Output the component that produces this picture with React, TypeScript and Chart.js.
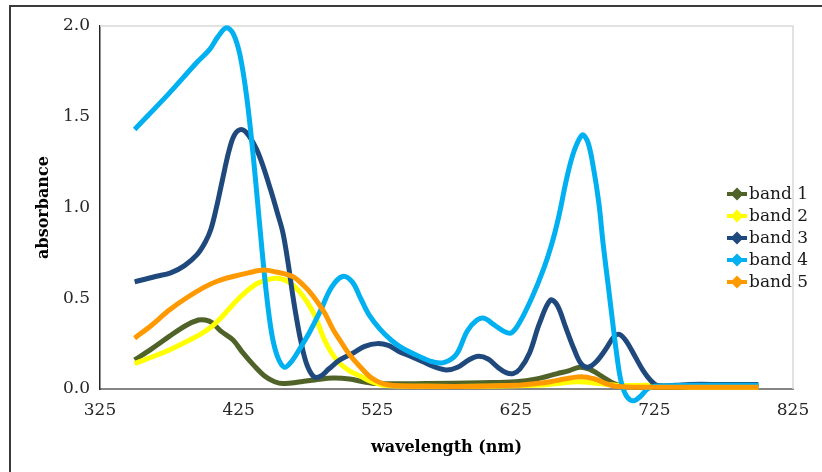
import React, { useEffect, useRef } from "react";
import { Chart, registerables } from "chart.js";

Chart.register(...registerables);

// ---- data ----
const seriesLabels = ["band 1", "band 2", "band 3", "band 4", "band 5"];
const seriesColors = ["#4F6228", "#FFFF00", "#1F497D", "#00B0F0", "#FF9900"];

const xTicks = [325, 425, 525, 625, 725, 825];
const yTicks = [0.0, 0.5, 1.0, 1.5, 2.0];

const band1Wl = [350, 362, 375, 387, 396, 401, 406, 412, 421, 428, 436, 444, 451, 457, 470, 480, 493, 505, 515, 525, 560, 600, 625, 640, 655, 663, 671, 678, 684, 690, 696, 705, 725, 750, 775, 800];
const band1Abs = [0.16, 0.22, 0.29, 0.35, 0.38, 0.38, 0.365, 0.32, 0.27, 0.2, 0.13, 0.07, 0.04, 0.03, 0.04, 0.05, 0.06, 0.055, 0.04, 0.03, 0.03, 0.035, 0.04, 0.055, 0.085, 0.1, 0.12, 0.11, 0.085, 0.055, 0.03, 0.015, 0.01, 0.01, 0.01, 0.01];

const band2Wl = [350, 362, 375, 387, 397, 405, 412, 418, 424, 431, 438, 445, 452, 460, 469, 479, 487, 492, 498, 505, 513, 521, 530, 560, 600, 640, 655, 670, 685, 700, 720, 740, 750, 775, 800];
const band2Abs = [0.14, 0.175, 0.215, 0.26, 0.3, 0.34, 0.39, 0.44, 0.49, 0.54, 0.58, 0.6, 0.61, 0.595, 0.536, 0.42, 0.27, 0.2, 0.14, 0.1, 0.07, 0.04, 0.02, 0.015, 0.015, 0.02, 0.03, 0.04, 0.03, 0.02, 0.02, 0.015, 0.01, 0.01, 0.01];

const band3Wl = [350, 365, 376, 386, 395, 401, 405, 409, 413, 418, 422, 427, 432, 438, 443, 448, 453, 457, 461, 464, 467, 470, 474, 479, 484, 490, 498, 508, 516, 525, 533, 540, 549, 558, 567, 575, 583, 591, 598, 605, 612, 618, 623, 628, 635, 642, 650, 655, 661, 667, 672, 677, 683, 690, 696, 700, 705, 711, 717, 722, 727, 740, 750, 775, 800];
const band3Abs = [0.59, 0.62, 0.64, 0.68, 0.74, 0.81, 0.88, 1.0, 1.14, 1.31, 1.4, 1.43, 1.4, 1.32, 1.22, 1.1, 0.97, 0.86, 0.68, 0.52, 0.38, 0.26, 0.14, 0.07, 0.07, 0.11, 0.16, 0.2, 0.235, 0.25, 0.24, 0.21, 0.18, 0.15, 0.12, 0.105, 0.12, 0.16, 0.18, 0.165, 0.12, 0.09, 0.085, 0.11, 0.2, 0.36, 0.49, 0.46, 0.34, 0.22, 0.14, 0.12, 0.15, 0.22, 0.29, 0.3, 0.26, 0.18, 0.1, 0.05, 0.02, 0.02, 0.025, 0.025, 0.025];

const band4Wl = [350, 375, 395, 404, 410, 416, 421, 426, 431, 436, 440, 445, 449, 453, 458, 463, 469, 476, 484, 492, 500, 507, 513, 519, 527, 535, 542, 555, 565, 573, 582, 590, 597, 602, 610, 617, 622, 628, 637, 645, 651, 656, 662, 667, 673, 677, 681, 685, 688, 692, 695, 698, 701, 705, 710, 715, 720, 725, 750, 775, 800];
const band4Abs = [1.43, 1.63, 1.8, 1.87, 1.94, 1.99, 1.96, 1.84, 1.6, 1.25, 0.92, 0.53, 0.3, 0.18, 0.12, 0.15, 0.22, 0.31, 0.43, 0.56, 0.62, 0.59, 0.5, 0.41, 0.33, 0.27, 0.23, 0.18, 0.15, 0.145, 0.19, 0.32, 0.38, 0.39, 0.35, 0.315, 0.31, 0.37, 0.51, 0.66, 0.8, 0.95, 1.17, 1.31, 1.4, 1.36, 1.22, 1.02, 0.8, 0.55, 0.36, 0.18, 0.04, -0.04, -0.065, -0.04, 0.0, 0.015, 0.02, 0.02, 0.02];

const band5Wl = [350, 362, 375, 387, 400, 410, 421, 432, 443, 452, 464, 472, 479, 487, 493, 498, 505, 513, 521, 529, 540, 560, 600, 625, 640, 650, 660, 672, 682, 690, 697, 710, 750, 775, 800];
const band5Abs = [0.28, 0.35, 0.435, 0.5, 0.56, 0.595, 0.62, 0.64, 0.655, 0.645, 0.62, 0.57, 0.51, 0.42, 0.33, 0.27, 0.19, 0.12, 0.06, 0.03, 0.018, 0.015, 0.015, 0.02, 0.03, 0.04, 0.055, 0.068, 0.055, 0.03, 0.015, 0.01, 0.01, 0.01, 0.01];

const seriesWl = [band1Wl, band2Wl, band3Wl, band4Wl, band5Wl];
const seriesAbs = [band1Abs, band2Abs, band3Abs, band4Abs, band5Abs];

const FONT = "'DejaVu Serif', serif";

const framePlugin = {
  id: "plotFrame",
  beforeDatasetsDraw(chart: any) {
    const { ctx, chartArea } = chart;
    const { left, top, right, bottom } = chartArea;
    ctx.save();
    ctx.strokeStyle = "#D9D9D9";
    ctx.lineWidth = 1.5;
    ctx.beginPath();
    ctx.moveTo(left, top);
    ctx.lineTo(right, top);
    ctx.lineTo(right, bottom);
    ctx.stroke();
    ctx.restore();
  },
};

const legendPlugin = {
  id: "customLegend",
  afterDraw(chart: any) {
    const { ctx } = chart;
    const x0 = 727;
    const y0 = 194;
    const dy = 22;
    ctx.save();
    chart.data.datasets.forEach((ds: any, i: number) => {
      const y = y0 + i * dy;
      ctx.strokeStyle = ds.borderColor;
      ctx.lineWidth = 4;
      ctx.beginPath();
      ctx.moveTo(x0, y);
      ctx.lineTo(x0 + 20, y);
      ctx.stroke();
      const cx = x0 + 10;
      const r = 6.5;
      ctx.fillStyle = ds.borderColor;
      ctx.beginPath();
      ctx.moveTo(cx, y - r);
      ctx.lineTo(cx + r, y);
      ctx.lineTo(cx, y + r);
      ctx.lineTo(cx - r, y);
      ctx.closePath();
      ctx.fill();
      ctx.fillStyle = "#1a1a1a";
      ctx.font = `17px ${FONT}`;
      ctx.textBaseline = "middle";
      ctx.textAlign = "left";
      ctx.fillText(ds.label, x0 + 22, y + 1);
    });
    ctx.restore();
  },
};

export default function App() {
  const canvasRef = useRef<HTMLCanvasElement | null>(null);

  useEffect(() => {
    if (!canvasRef.current) return;
    const datasets = seriesLabels.map((label, i) => ({
      label,
      data: seriesWl[i].map((wl, j) => ({ x: wl, y: seriesAbs[i][j] })),
      borderColor: seriesColors[i],
      backgroundColor: seriesColors[i],
      borderWidth: 5,
      pointRadius: 0,
      fill: false,
      tension: 0.35,
      clip: false as any,
      order: seriesLabels.length - i,
    }));
    const chart = new Chart(canvasRef.current, {
      type: "line",
      data: { datasets },
      options: {
        animation: false,
        responsive: false,
        devicePixelRatio: 1,
        layout: { padding: { top: 26, right: 29, left: 0, bottom: 0 } },
        plugins: {
          legend: { display: false },
          tooltip: { enabled: false },
        },
        scales: {
          x: {
            type: "linear",
            min: xTicks[0],
            max: xTicks[xTicks.length - 1],
            afterFit: (s: any) => {
              s.height = 83;
            },
            afterBuildTicks: (s: any) => {
              s.ticks = xTicks.map((v) => ({ value: v }));
            },
            grid: { display: false, drawTicks: false },
            border: { display: true, color: "#868686", width: 2 },
            ticks: {
              padding: 11,
              color: "#262626",
              font: { family: FONT, size: 17 },
              callback: (v: any) => String(v),
            },
            title: {
              display: true,
              text: "wavelength (nm)",
              color: "#000",
              font: { family: FONT, size: 16, weight: "bold" },
              padding: { top: 0, bottom: 15 },
            },
          },
          y: {
            type: "linear",
            min: yTicks[0],
            max: yTicks[yTicks.length - 1],
            afterFit: (s: any) => {
              s.width = 100;
            },
            afterBuildTicks: (s: any) => {
              s.ticks = yTicks.map((v) => ({ value: v }));
            },
            grid: { display: false, drawTicks: false },
            border: { display: true, color: "#262626", width: 1.5 },
            ticks: {
              padding: 10,
              color: "#262626",
              font: { family: FONT, size: 17 },
              callback: (v: any) => Number(v).toFixed(1),
            },
            title: {
              display: true,
              text: "absorbance",
              color: "#000",
              font: { family: FONT, size: 16, weight: "bold" },
              padding: { top: 34, bottom: 0 },
            },
          },
        },
      },
      plugins: [framePlugin, legendPlugin],
    });
    return () => chart.destroy();
  }, []);

  return (
    <div style={{ position: "absolute", left: 0, top: 0, width: 822, height: 472, background: "#fff", overflow: "hidden" }}>
      <div
        style={{
          position: "absolute",
          left: 9,
          top: 5,
          width: 900,
          height: 600,
          borderTop: "2px solid #3a3a3a",
          borderLeft: "2px solid #3a3a3a",
        }}
      />
      <canvas ref={canvasRef} width={822} height={472} style={{ position: "absolute", left: 0, top: 0, display: "block" }} />
    </div>
  );
}
